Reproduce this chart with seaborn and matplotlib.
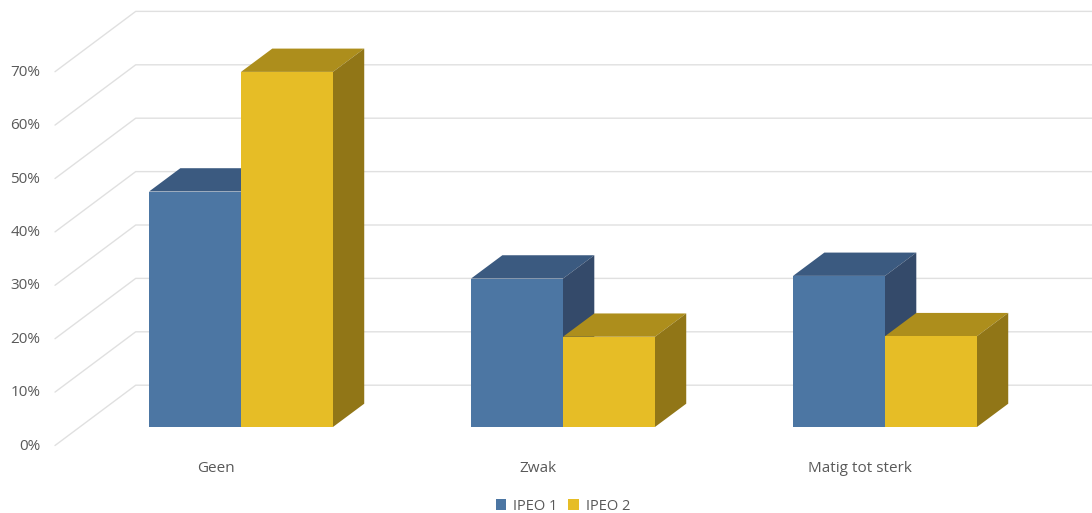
import pandas as pd
import matplotlib.pyplot as plt
import seaborn as sns

categories = ["Geen", "Zwak", "Matig tot sterk"]
series_names = ["IPEO 1", "IPEO 2"]
ipeo_1 = [44.1, 27.8, 28.3]
ipeo_2 = [66.5, 16.9, 17.0]
tick_values = [0, 10, 20, 30, 40, 50, 60, 70]
tick_labels = ["0%", "10%", "20%", "30%", "40%", "50%", "60%", "70%"]

# colours per series: front, top, side
colors = {
    "IPEO 1": ("#4c76a3", "#3b5a80", "#344a6a"),
    "IPEO 2": ("#e6bd26", "#ad8e1c", "#917617"),
}
grid_color = "#e0e0e0"
text_color = "#595959"

sns.set_theme(style="white")
plt.rcParams["font.family"] = ["Open Sans", "DejaVu Sans"]

df = pd.DataFrame({
    "cat": categories * 2,
    "value": ipeo_1 + ipeo_2,
    "series": [series_names[0]] * 3 + [series_names[1]] * 3,
})

fig = plt.figure(figsize=(10.92, 5.13), dpi=100)
ax = fig.add_axes([55 / 1092, (513 - 445.5) / 513, 1037 / 1092, 445.5 / 513])

sns.barplot(
    data=df, x="cat", y="value", hue="series", hue_order=series_names, ax=ax,
    palette={k: v[0] for k, v in colors.items()},
    width=0.571, gap=0, saturation=1, linewidth=0, errorbar=None,
)

# one category is 322 px wide, 10% is 53.4 px high
ax.set_xlim(-186 / 322, 851 / 322)
ax.set_ylim(-18.5 / 5.34, 427 / 5.34)
ax.set_xlabel("")
ax.set_ylabel("")

# depth of the fake 3D box, in data units
bar_dx, bar_dy = 31.3 / 322, 23.3 / 5.34
front_dx, front_dy = 24.7 / 322, 18.5 / 5.34
back_dx, back_dy = front_dx + bar_dx, front_dy + bar_dy

# back wall gridlines with the slanted part on the side wall
x_left, x_right = ax.get_xlim()
wall_x = x_left + front_dx + back_dx
for t in tick_values:
    ax.plot([x_left, wall_x, x_right], [t - front_dy, t + back_dy, t + back_dy],
            color=grid_color, lw=1.0, zorder=1, clip_on=False)

# top and side faces from the bars seaborn drew
for i, container in enumerate(ax.containers):
    _, top_color, side_color = colors[series_names[i]]
    for bar in container:
        x0, x1 = bar.get_x(), bar.get_x() + bar.get_width()
        h = bar.get_height()
        ax.fill([x0, x0 + bar_dx, x1 + bar_dx, x1], [h, h + bar_dy, h + bar_dy, h],
                color=top_color, lw=0, zorder=3 + 2 * i)
        ax.fill([x1, x1 + bar_dx, x1 + bar_dx, x1], [0, bar_dy, h + bar_dy, h],
                color=side_color, lw=0, zorder=3 + 2 * i)
        bar.set_zorder(4 + 2 * i)

ax.set_xticks([c - front_dx for c in range(len(categories))], categories)
ax.set_yticks([t - 3.2 for t in tick_values], tick_labels)
ax.tick_params(axis="x", length=0, pad=10.8, labelsize=11, labelcolor=text_color)
ax.tick_params(axis="y", length=0, pad=10.5, labelsize=11, labelcolor=text_color)
sns.despine(ax=ax, left=True, bottom=True)
ax.patch.set_alpha(0)

sns.move_legend(
    ax, "center", bbox_to_anchor=(563 / 1092, (513 - 506) / 513),
    bbox_transform=fig.transFigure, ncol=2, frameon=False, title=None,
    fontsize=10.5, labelcolor=text_color, handlelength=0.7, handleheight=0.7,
    handletextpad=0.5, columnspacing=0.75,
)

fig.savefig("out.png", dpi=100)
plt.close(fig)
